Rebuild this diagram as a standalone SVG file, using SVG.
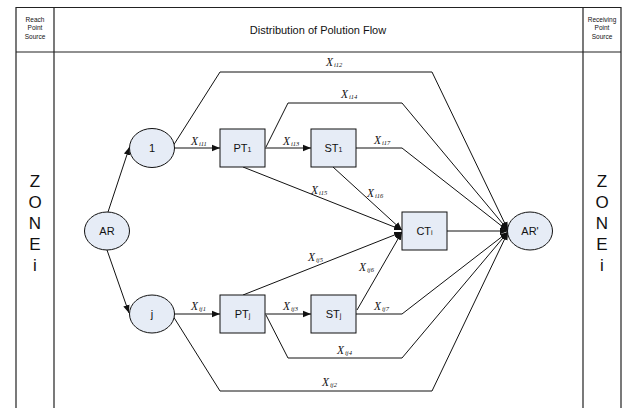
<svg xmlns="http://www.w3.org/2000/svg" width="625" height="408" viewBox="0 0 625 408">
<style>
.frame{fill:none;stroke:#222;stroke-width:1.2}
.node{fill:#E6ECF6;stroke:#111;stroke-width:1}
.lbl{font-family:"Liberation Sans",Arial,sans-serif;font-size:11px;fill:#111;text-anchor:middle}
.hdr{font-family:"Liberation Sans",Arial,sans-serif;fill:#111;text-anchor:middle}
.zone{font-family:"Liberation Sans",Arial,sans-serif;font-size:17px;fill:#111;text-anchor:middle}
.x{font-family:"Liberation Serif","Times New Roman",serif;font-style:italic;font-size:11.5px;fill:#111}
.sub{font-size:6.5px}
.c{fill:none;stroke:#111;stroke-width:1}
</style>
<defs>
<marker id="ah" viewBox="0 0 10 10" refX="10" refY="5" markerWidth="8" markerHeight="8" markerUnits="userSpaceOnUse" orient="auto">
<path d="M0,1 L10,5 L0,9 z" fill="#111"/>
</marker>
</defs>
<g id="frame">
<path class="frame" d="M16,408 V7.5 H621 V408 M54,7.5 V408 M583,7.5 V408 M16,52 H621"/>
<text class="hdr" font-size="6.5" x="35" y="22">Reach</text>
<text class="hdr" font-size="6.5" x="35" y="30">Point</text>
<text class="hdr" font-size="6.5" x="35" y="39">Source</text>
<text class="hdr" font-size="11" x="318" y="34">Distribution of Polution Flow</text>
<text class="hdr" font-size="6.5" x="602" y="22">Receiving</text>
<text class="hdr" font-size="6.5" x="602" y="30">Point</text>
<text class="hdr" font-size="6.5" x="602" y="39">Source</text>
<text class="zone" x="35" y="187">Z</text>
<text class="zone" x="35" y="208">O</text>
<text class="zone" x="35" y="229">N</text>
<text class="zone" x="35" y="250">E</text>
<text class="zone" x="35" y="271">i</text>
<text class="zone" x="602" y="187">Z</text>
<text class="zone" x="602" y="208">O</text>
<text class="zone" x="602" y="229">N</text>
<text class="zone" x="602" y="250">E</text>
<text class="zone" x="602" y="271">i</text>
</g>
<g id="connectors">
<path class="c" marker-end="url(#ah)" d="M108,212 L129.5,147"/>
<path class="c" marker-end="url(#ah)" d="M107,250 L129,313"/>
<path class="c" marker-end="url(#ah)" d="M174,148 H220"/>
<path class="c" marker-end="url(#ah)" d="M265,148 H311"/>
<path class="c" marker-end="url(#ah)" d="M174,314 H220"/>
<path class="c" marker-end="url(#ah)" d="M265,314 H311"/>
<path class="c" marker-end="url(#ah)" d="M173,146 L220,72 H432 L508,230"/>
<path class="c" marker-end="url(#ah)" d="M266,147 L288,103 H402 L508,230"/>
<path class="c" marker-end="url(#ah)" d="M356,148 H402 L508,231"/>
<path class="c" marker-end="url(#ah)" d="M243,167 L402,230"/>
<path class="c" marker-end="url(#ah)" d="M333,167 L402,230"/>
<path class="c" marker-end="url(#ah)" d="M243,295 L402,232"/>
<path class="c" marker-end="url(#ah)" d="M357,310 L402,232"/>
<path class="c" marker-end="url(#ah)" d="M447,231 H508"/>
<path class="c" marker-end="url(#ah)" d="M356,314 H402 L508,232"/>
<path class="c" marker-end="url(#ah)" d="M266,315 L288,358 H402 L508,232"/>
<path class="c" marker-end="url(#ah)" d="M173,316 L220,391 H432 L508,232"/>
<text class="x" x="326" y="66">X<tspan class="sub" dx="1" dy="1">i12</tspan></text>
<text class="x" x="341" y="98">X<tspan class="sub" dx="1" dy="1">i14</tspan></text>
<text class="x" x="191" y="145">X<tspan class="sub" dx="1" dy="1">i11</tspan></text>
<text class="x" x="283" y="145">X<tspan class="sub" dx="1" dy="1">i13</tspan></text>
<text class="x" x="374" y="144">X<tspan class="sub" dx="1" dy="1">i17</tspan></text>
<text class="x" x="311" y="194">X<tspan class="sub" dx="1" dy="1">i15</tspan></text>
<text class="x" x="367" y="197">X<tspan class="sub" dx="1" dy="1">i16</tspan></text>
<text class="x" x="308" y="261">X<tspan class="sub" dx="1" dy="1">ij5</tspan></text>
<text class="x" x="359" y="271">X<tspan class="sub" dx="1" dy="1">ij6</tspan></text>
<text class="x" x="374" y="310">X<tspan class="sub" dx="1" dy="1">ij7</tspan></text>
<text class="x" x="191" y="310">X<tspan class="sub" dx="1" dy="1">ij1</tspan></text>
<text class="x" x="283" y="310">X<tspan class="sub" dx="1" dy="1">ij3</tspan></text>
<text class="x" x="337" y="354">X<tspan class="sub" dx="1" dy="1">ij4</tspan></text>
<text class="x" x="322" y="386">X<tspan class="sub" dx="1" dy="1">ij2</tspan></text>
</g>
<g id="AR"><ellipse class="node" cx="107" cy="231" rx="22.5" ry="19"/><text class="lbl" x="107" y="235">AR</text></g>
<g id="n1"><ellipse class="node" cx="152" cy="148" rx="22.5" ry="19.5"/><text class="lbl" x="152" y="152">1</text></g>
<g id="nj"><ellipse class="node" cx="152" cy="314" rx="22.5" ry="19"/><text class="lbl" x="152" y="318">j</text></g>
<g id="PT1"><rect class="node" x="220" y="129" width="45" height="38"/><text class="lbl" x="242.5" y="152">PT<tspan font-size="7">1</tspan></text></g>
<g id="ST1"><rect class="node" x="311" y="129" width="45" height="38"/><text class="lbl" x="333.5" y="152">ST<tspan font-size="7">1</tspan></text></g>
<g id="PTj"><rect class="node" x="220" y="295" width="45" height="38"/><text class="lbl" x="242.5" y="318">PT<tspan font-size="7">j</tspan></text></g>
<g id="STj"><rect class="node" x="311" y="295" width="45" height="38"/><text class="lbl" x="333.5" y="318">ST<tspan font-size="7">j</tspan></text></g>
<g id="CT"><rect class="node" x="402" y="212" width="45" height="38"/><text class="lbl" x="424.5" y="235">CT<tspan font-size="7">i</tspan></text></g>
<g id="ARp"><ellipse class="node" cx="530" cy="231" rx="22.5" ry="19"/><text class="lbl" x="530" y="235">AR'</text></g>
</svg>
